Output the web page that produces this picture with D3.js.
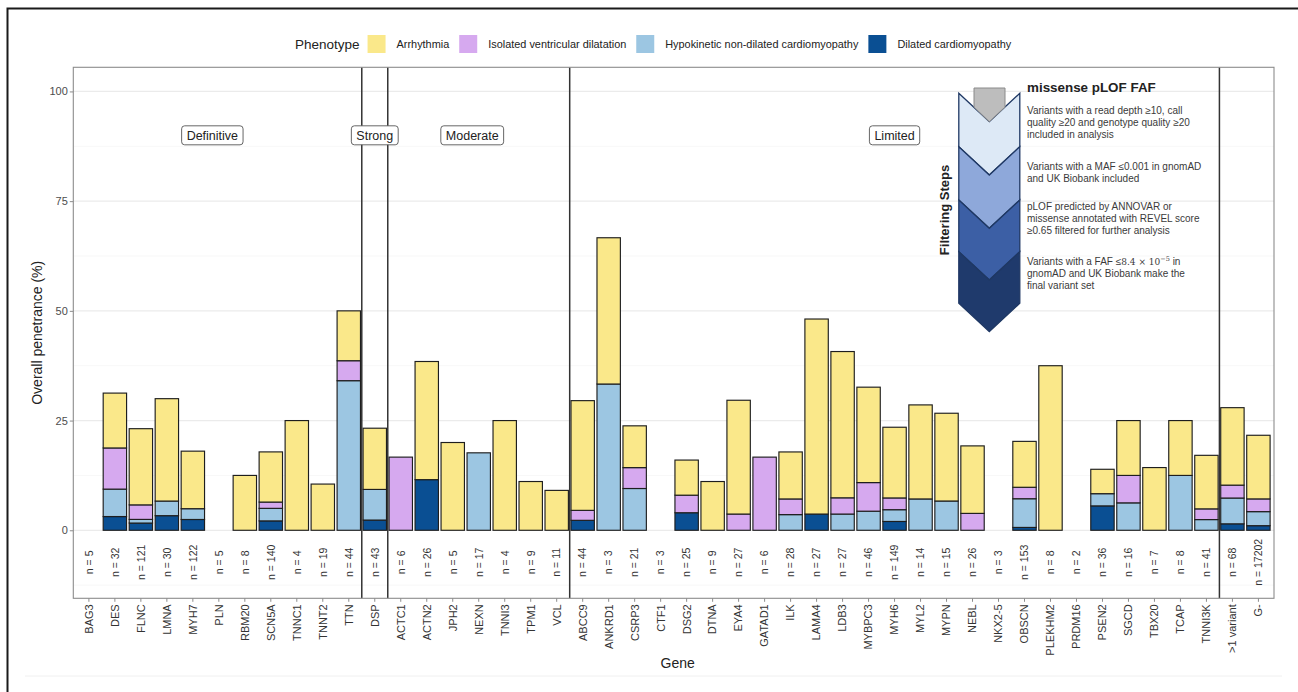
<!DOCTYPE html>
<html>
<head>
<meta charset="utf-8">
<script src="https://cdn.jsdelivr.net/npm/d3@7"></script>
<style>
  body { margin: 0; background: #fff; }
  svg { display: block; font-family: "Liberation Sans", Arial, Helvetica, sans-serif; }
</style>
</head>
<body>
<svg id="chart" width="1298" height="692"></svg>
<script>
// ---- data -------------------------------------------------------------
const genes = ["BAG3","DES","FLNC","LMNA","MYH7","PLN","RBM20","SCN5A","TNNC1","TNNT2","TTN",
  "DSP",
  "ACTC1","ACTN2","JPH2","NEXN","TNNI3","TPM1","VCL",
  "ABCC9","ANKRD1","CSRP3","CTF1","DSG2","DTNA","EYA4","GATAD1","ILK","LAMA4","LDB3","MYBPC3",
  "MYH6","MYL2","MYPN","NEBL","NKX2-5","OBSCN","PLEKHM2","PRDM16","PSEN2","SGCD","TBX20","TCAP","TNNI3K",
  ">1 variant","G-"];

const carriers = [5,32,121,30,122,5,8,140,4,19,44,
  43,
  6,26,5,17,4,9,11,
  44,3,21,3,25,9,27,6,28,27,27,46,
  149,14,15,26,3,153,8,2,36,16,7,8,41,
  68,17202];

// penetrance (%) by phenotype
const dilatedCM = [0,3.13,1.65,3.33,2.46,0,0,2.14,0,0,0,
  2.33,
  0,11.54,0,0,0,0,0,
  2.27,0,0,0,4,0,0,0,0,3.7,0,0,
  2.01,0,0,0,0,0.65,0,0,5.56,0,0,0,0,
  1.47,1.05];
const hypokineticNDCM = [0,6.25,0.83,3.33,2.46,0,0,2.86,0,0,34.09,
  6.98,
  0,0,0,17.65,0,0,0,
  0,33.33,9.52,0,0,0,0,0,3.57,0,3.7,4.35,
  2.68,7.14,6.67,0,0,6.54,0,0,2.78,6.25,0,12.5,2.44,
  5.88,3.2];
const isolatedVD = [0,9.38,3.31,0,0,0,0,1.43,0,0,4.55,
  0,
  16.67,0,0,0,0,0,0,
  2.27,0,4.76,0,4,0,3.7,16.67,3.57,0,3.7,6.52,
  2.68,0,0,3.85,0,2.61,0,0,0,6.25,0,0,2.44,
  2.94,2.9];
const arrhythmia = [0,12.5,17.36,23.33,13.11,0,12.5,11.43,25,10.53,11.36,
  13.95,
  0,26.92,20,0,25,11.11,9.09,
  25,33.33,9.52,0,8,11.11,25.93,0,10.71,44.44,33.33,21.74,
  16.11,21.43,20,15.38,0,10.46,37.5,0,5.56,12.5,14.29,12.5,12.2,
  17.65,14.5];

const phenotypeNames = ["Arrhythmia","Isolated ventricular dilatation","Hypokinetic non-dilated cardiomyopathy","Dilated cardiomyopathy"];
const phenotypeColors = ["#fae88a","#d6a9ef","#9cc6e2","#0a4f93"];

const yTicks = [0,25,50,75,100];
const yMinor = [-12.5,12.5,37.5,62.5,87.5];

// evidence classes: first gene of each class, label, label anchor (band units)
const evidenceClasses = ["Definitive","Strong","Moderate","Limited"];
const evidenceStart = ["BAG3","DSP","ACTC1","ABCC9"];
const evidenceLabelAt = [4.75, 11, 14.75, 31];
const summaryStart = ">1 variant";

const filterTitle = "missense pLOF FAF";
const filterSteps = [
  ["Variants with a read depth \u226510, call","quality \u226520 and genotype quality \u226520","included in analysis"],
  ["Variants with a MAF \u22640.001 in gnomAD","and UK Biobank included"],
  ["pLOF predicted by ANNOVAR or","missense annotated with REVEL score","\u22650.65 filtered for further analysis"],
  ["Variants with a FAF \u2264#FAF# in","gnomAD and UK Biobank make the","final variant set"]
];
const chevronColors = ["#dde9f6","#8ea8da","#3c5fa5","#1f3a6c"];

// ---- layout -------------------------------------------------------------
const W = 1298, H = 692;
const P = {left: 73.3, right: 1274, top: 67.3, bottom: 598.3};
const svg = d3.select("#chart");

// figure frame
svg.append("path")
  .attr("d", `M7.5,${H + 5} V8.5 H${W + 5}`)
  .attr("fill", "none").attr("stroke", "#1a1a1a").attr("stroke-width", 2);
svg.append("line")
  .attr("x1", 25).attr("x2", 1282).attr("y1", 676).attr("y2", 676)
  .attr("stroke", "#f0f0f0").attr("stroke-width", 1);

const x = d3.scaleBand().domain(genes).range([P.left, P.right])
  .paddingInner(0.1).paddingOuter(0.15);
const y = d3.scaleLinear().domain([-15.5, 105.5]).range([P.bottom, P.top]);
const step = x.step();
const cx = g => x(g) + x.bandwidth() / 2;

// grid
const grid = svg.append("g");
grid.selectAll(".minor").data(yMinor).join("line")
  .attr("x1", P.left).attr("x2", P.right)
  .attr("y1", d => y(d)).attr("y2", d => y(d))
  .attr("stroke", "#f4f4f4").attr("stroke-width", 0.7);
grid.selectAll(".major").data(yTicks).join("line")
  .attr("x1", P.left).attr("x2", P.right)
  .attr("y1", d => y(d)).attr("y2", d => y(d))
  .attr("stroke", "#ebebeb").attr("stroke-width", 1.2);

// stacked bars: DCM at the bottom, arrhythmia on top
const rows = genes.map((g, i) => ({
  gene: g,
  "Dilated cardiomyopathy": dilatedCM[i],
  "Hypokinetic non-dilated cardiomyopathy": hypokineticNDCM[i],
  "Isolated ventricular dilatation": isolatedVD[i],
  "Arrhythmia": arrhythmia[i]
}));
const stackKeys = ["Dilated cardiomyopathy","Hypokinetic non-dilated cardiomyopathy","Isolated ventricular dilatation","Arrhythmia"];
const color = d3.scaleOrdinal().domain(phenotypeNames).range(phenotypeColors);
const series = d3.stack().keys(stackKeys)(rows);

const bars = svg.append("g");
series.forEach(s => {
  bars.append("g").selectAll("rect")
    .data(s.filter(d => d[1] - d[0] > 0))
    .join("rect")
    .attr("x", d => x(d.data.gene))
    .attr("width", x.bandwidth())
    .attr("y", d => y(d[1]))
    .attr("height", d => y(d[0]) - y(d[1]))
    .attr("fill", color(s.key))
    .attr("stroke", "#1e1e1e").attr("stroke-width", 1.15);
});

// carrier counts
svg.append("g").selectAll("text").data(genes).join("text")
  .attr("transform", (g) => `translate(${cx(g) + 3.8},${y(-7.3)}) rotate(-90)`)
  .attr("text-anchor", "middle")
  .attr("font-size", 10.5).attr("fill", "#333")
  .text((g, i) => `n = ${carriers[i]}`);

// class separators
const separators = evidenceStart.slice(1).concat([summaryStart]).map(g => x(g) - step * 0.05);
svg.append("g").selectAll("line").data(separators).join("line")
  .attr("x1", d => d).attr("x2", d => d)
  .attr("y1", P.top).attr("y2", P.bottom)
  .attr("stroke", "#333").attr("stroke-width", 1.5);

// panel border
svg.append("rect")
  .attr("x", P.left).attr("y", P.top)
  .attr("width", P.right - P.left).attr("height", P.bottom - P.top)
  .attr("fill", "none").attr("stroke", "#8c8c8c").attr("stroke-width", 1.1);

// axes
const yAxis = svg.append("g").attr("transform", `translate(${P.left},0)`)
  .call(d3.axisLeft(y).tickValues(yTicks).tickSize(3.5).tickPadding(2));
yAxis.select(".domain").remove();
yAxis.selectAll(".tick line").attr("stroke", "#8c8c8c");
yAxis.selectAll(".tick text").attr("font-size", 11).attr("fill", "#4d4d4d")
  .attr("font-family", "Liberation Sans, Arial, sans-serif");

const xAxis = svg.append("g").attr("transform", `translate(0,${P.bottom})`)
  .call(d3.axisBottom(x).tickSize(3.5).tickPadding(2));
xAxis.select(".domain").remove();
xAxis.selectAll(".tick line").attr("stroke", "#8c8c8c");
xAxis.selectAll(".tick text")
  .attr("font-size", 11).attr("fill", "#333")
  .attr("font-family", "Liberation Sans, Arial, sans-serif")
  .attr("text-anchor", "end")
  .attr("transform", "rotate(-90)")
  .attr("x", -6).attr("y", 0).attr("dy", "0.35em");

// axis titles
svg.append("text")
  .attr("transform", `translate(42,${(P.top + P.bottom) / 2}) rotate(-90)`)
  .attr("text-anchor", "middle").attr("font-size", 14).attr("fill", "#222")
  .text("Overall penetrance (%)");
svg.append("text")
  .attr("x", (P.left + P.right) / 2 + 4).attr("y", 668)
  .attr("text-anchor", "middle").attr("font-size", 14).attr("fill", "#222")
  .text("Gene");

// evidence class labels
const labels = svg.append("g");
evidenceClasses.forEach((name, i) => {
  const lx = x(genes[0]) + x.bandwidth() / 2 + evidenceLabelAt[i] * step;
  const ly = y(90);
  const g = labels.append("g");
  const t = g.append("text").attr("x", lx).attr("y", ly).attr("dy", "0.36em")
    .attr("text-anchor", "middle").attr("font-size", 12.5).attr("fill", "#222").text(name);
  const w = t.node().getComputedTextLength() + 10;
  g.insert("rect", "text")
    .attr("x", lx - w / 2).attr("y", ly - 9.5).attr("width", w).attr("height", 19)
    .attr("rx", 3).attr("fill", "#fff").attr("stroke", "#555").attr("stroke-width", 0.9);
});

// legend
const legend = svg.append("g");
let lxPos = 295;
const title = legend.append("text").attr("x", lxPos).attr("y", 49)
  .attr("font-size", 13.5).attr("fill", "#222").text("Phenotype");
lxPos += title.node().getComputedTextLength() + 8;
phenotypeNames.forEach((name, i) => {
  legend.append("rect").attr("x", lxPos).attr("y", 35).attr("width", 18).attr("height", 18)
    .attr("fill", phenotypeColors[i]);
  const t = legend.append("text").attr("x", lxPos + 29).attr("y", 47.5)
    .attr("font-size", 10.9).attr("fill", "#222").text(name);
  lxPos += 29 + t.node().getComputedTextLength() + 10;
});

// filtering steps graphic
const inset = svg.append("g");
const icx = 989.3, ihw = 30.5, idepth = 28.3;
const edges = [93.3, 146.7, 200, 251.7, 303.3];
chevronColors.forEach((c, i) => {
  const y0 = edges[i], y1 = edges[i + 1];
  inset.append("path")
    .attr("d", `M${icx - ihw},${y0} L${icx},${y0 + idepth} L${icx + ihw},${y0} L${icx + ihw},${y1} L${icx},${y1 + idepth} L${icx - ihw},${y1} Z`)
    .attr("fill", c).attr("stroke", "#1f3864").attr("stroke-width", 1.3).attr("stroke-linejoin", "miter");
});
inset.append("path")
  .attr("d", `M974,88 L1005,88 L1005,107 L${icx},121.7 L974,107 Z`)
  .attr("fill", "#bdbdbd").attr("stroke", "#8a8a8a").attr("stroke-width", 1);

inset.append("text")
  .attr("transform", "translate(949,210) rotate(-90)")
  .attr("text-anchor", "middle").attr("font-size", 13).attr("font-weight", "bold")
  .attr("fill", "#222").text("Filtering Steps");
inset.append("text").attr("x", 1027).attr("y", 91.5)
  .attr("font-size", 13.4).attr("font-weight", "bold").attr("fill", "#222").text(filterTitle);

const blockTops = [114.3, 170, 210.3, 265];
filterSteps.forEach((lines, bi) => {
  lines.forEach((line, li) => {
    const t = inset.append("text").attr("x", 1027).attr("y", blockTops[bi] + li * 12)
      .attr("font-size", 10).attr("fill", "#3a3a3a");
    if (line.includes("#FAF#")) {
      const [a, b] = line.split("#FAF#");
      t.append("tspan").text(a);
      t.append("tspan").attr("font-family", "DejaVu Serif, serif").attr("font-size", 9).text("8.4 \u00d7 10");
      t.append("tspan").attr("font-family", "DejaVu Serif, serif").attr("font-size", 6.5).attr("dy", -4.5).text("\u22125");
      t.append("tspan").attr("dy", 4.5).text(b);
    } else {
      t.text(line);
    }
  });
});
</script>
</body>
</html>
